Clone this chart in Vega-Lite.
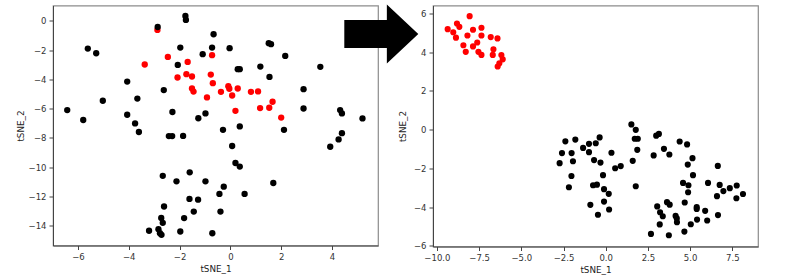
{
"$schema": "https://vega.github.io/schema/vega-lite/v6.json",
"background": "white",
"padding": {"left": 15, "top": 3.5, "right": 5, "bottom": 5},
"bounds": "flush",
"spacing": 55,
"config": {
  "view": {"stroke": "#8c8c8c", "strokeWidth": 1.2},
  "axis": {"grid": false, "labelFont": "DejaVu Sans", "labelFontSize": 8.5, "labelColor": "#333", "titleFont": "DejaVu Sans", "titleFontSize": 8.8, "titleFontWeight": "normal", "titleColor": "#222", "tickColor": "#444", "tickSize": 4, "domainColor": "#444", "labelPadding": 3, "titlePadding": 3, "labelFlush": false, "labelOverlap": false, "labelBound": false}
},
"datasets": {
"left": [
{"x":-2.87,"y":-0.61,"c":"r"},{"x":-3.37,"y":-2.98,"c":"r"},{"x":-2.46,"y":-2.46,"c":"r"},{"x":-1.68,"y":-2.80,"c":"r"},{"x":-0.72,"y":-2.34,"c":"r"},{"x":-2.08,"y":-3.87,"c":"r"},{"x":-1.73,"y":-3.64,"c":"r"},{"x":-1.51,"y":-3.80,"c":"r"},{"x":-0.77,"y":-3.67,"c":"r"},{"x":-0.69,"y":-4.26,"c":"r"},{"x":-1.51,"y":-4.62,"c":"r"},{"x":-1.45,"y":-4.83,"c":"r"},{"x":-0.92,"y":-5.23,"c":"r"},{"x":-0.37,"y":-4.85,"c":"r"},{"x":-0.08,"y":-4.47,"c":"r"},{"x":-0.04,"y":-4.64,"c":"r"},{"x":0.07,"y":-5.10,"c":"r"},{"x":0.29,"y":-4.62,"c":"r"},{"x":0.81,"y":-4.85,"c":"r"},{"x":1.09,"y":-4.82,"c":"r"},{"x":1.66,"y":-5.53,"c":"r"},{"x":1.53,"y":-5.94,"c":"r"},{"x":1.17,"y":-5.96,"c":"r"},{"x":0.20,"y":-6.15,"c":"r"},{"x":2.00,"y":-6.61,"c":"r"},
{"x":-2.86,"y":-0.41,"c":"k"},{"x":-1.77,"y":0.34,"c":"k"},{"x":-1.75,"y":0.07,"c":"k"},{"x":-5.61,"y":-1.89,"c":"k"},{"x":-5.28,"y":-2.21,"c":"k"},{"x":-1.97,"y":-1.82,"c":"k"},{"x":-2.07,"y":-3.01,"c":"k"},{"x":-4.06,"y":-4.15,"c":"k"},{"x":-2.62,"y":-4.73,"c":"k"},{"x":-5.02,"y":-5.46,"c":"k"},{"x":-3.66,"y":-5.31,"c":"k"},{"x":-6.42,"y":-6.10,"c":"k"},{"x":-5.79,"y":-6.78,"c":"k"},{"x":-4.06,"y":-6.42,"c":"k"},{"x":-2.28,"y":-6.23,"c":"k"},{"x":-3.75,"y":-7.01,"c":"k"},{"x":-3.60,"y":-7.60,"c":"k"},{"x":-1.26,"y":-6.66,"c":"k"},{"x":-0.66,"y":-0.91,"c":"k"},{"x":-0.72,"y":-1.82,"c":"k"},{"x":-0.03,"y":-1.86,"c":"k"},{"x":-1.09,"y":-2.27,"c":"k"},{"x":1.51,"y":-1.52,"c":"k"},{"x":1.60,"y":-1.59,"c":"k"},{"x":2.16,"y":-2.39,"c":"k"},{"x":3.54,"y":-3.14,"c":"k"},{"x":0.29,"y":-3.30,"c":"k"},{"x":0.37,"y":-3.30,"c":"k"},{"x":1.18,"y":-3.12,"c":"k"},{"x":1.54,"y":-3.83,"c":"k"},{"x":2.88,"y":-4.67,"c":"k"},{"x":-0.98,"y":-6.33,"c":"k"},{"x":2.88,"y":-5.99,"c":"k"},{"x":4.32,"y":-6.10,"c":"k"},{"x":4.39,"y":-6.33,"c":"k"},{"x":5.20,"y":-6.67,"c":"k"},{"x":-0.29,"y":-7.45,"c":"k"},{"x":0.37,"y":-7.22,"c":"k"},{"x":2.11,"y":-7.45,"c":"k"},{"x":-2.42,"y":-7.88,"c":"k"},{"x":-2.29,"y":-7.88,"c":"k"},{"x":-1.86,"y":-7.87,"c":"k"},{"x":4.39,"y":-7.68,"c":"k"},{"x":4.26,"y":-8.11,"c":"k"},{"x":3.93,"y":-8.61,"c":"k"},{"x":0.07,"y":-8.56,"c":"k"},{"x":0.20,"y":-9.72,"c":"k"},{"x":0.37,"y":-9.97,"c":"k"},{"x":-2.66,"y":-10.60,"c":"k"},{"x":-2.12,"y":-10.98,"c":"k"},{"x":-1.60,"y":-10.36,"c":"k"},{"x":-0.98,"y":-10.98,"c":"k"},{"x":-0.26,"y":-11.34,"c":"k"},{"x":-0.43,"y":-11.84,"c":"k"},{"x":0.56,"y":-11.84,"c":"k"},{"x":1.69,"y":-11.09,"c":"k"},{"x":-1.61,"y":-12.18,"c":"k"},{"x":-1.27,"y":-12.23,"c":"k"},{"x":-2.61,"y":-12.70,"c":"k"},{"x":-1.44,"y":-13.05,"c":"k"},{"x":-0.39,"y":-13.05,"c":"k"},{"x":-1.82,"y":-13.49,"c":"k"},{"x":-2.72,"y":-13.48,"c":"k"},{"x":-2.66,"y":-13.82,"c":"k"},{"x":-3.20,"y":-14.36,"c":"k"},{"x":-2.83,"y":-14.26,"c":"k"},{"x":-2.77,"y":-14.53,"c":"k"},{"x":-2.71,"y":-14.64,"c":"k"},{"x":-1.97,"y":-14.41,"c":"k"},{"x":-0.71,"y":-14.53,"c":"k"}
],
"arrow": [{"x":5.94,"y":-0.89}],
"right": [
{"x":-8.06,"y":5.86,"c":"r"},{"x":-9.36,"y":5.19,"c":"r"},{"x":-8.81,"y":5.48,"c":"r"},{"x":-8.67,"y":5.31,"c":"r"},{"x":-9.03,"y":5.03,"c":"r"},{"x":-8.87,"y":4.75,"c":"r"},{"x":-8.19,"y":4.86,"c":"r"},{"x":-7.86,"y":5.16,"c":"r"},{"x":-7.36,"y":5.26,"c":"r"},{"x":-7.36,"y":4.86,"c":"r"},{"x":-7.61,"y":4.50,"c":"r"},{"x":-8.43,"y":4.36,"c":"r"},{"x":-7.86,"y":4.30,"c":"r"},{"x":-8.29,"y":4.02,"c":"r"},{"x":-7.54,"y":4.02,"c":"r"},{"x":-7.36,"y":3.86,"c":"r"},{"x":-6.81,"y":4.78,"c":"r"},{"x":-6.41,"y":4.71,"c":"r"},{"x":-6.65,"y":4.15,"c":"r"},{"x":-6.69,"y":3.86,"c":"r"},{"x":-6.18,"y":3.85,"c":"r"},{"x":-6.10,"y":3.63,"c":"r"},{"x":-6.30,"y":3.43,"c":"r"},{"x":-6.40,"y":3.26,"c":"r"},
{"x":-2.39,"y":-0.60,"c":"k"},{"x":-1.80,"y":-0.51,"c":"k"},{"x":-2.59,"y":-1.21,"c":"k"},{"x":-2.02,"y":-1.21,"c":"k"},{"x":-2.73,"y":-1.73,"c":"k"},{"x":-1.94,"y":-1.63,"c":"k"},{"x":-1.34,"y":-0.94,"c":"k"},{"x":-0.99,"y":-0.73,"c":"k"},{"x":-0.59,"y":-0.70,"c":"k"},{"x":-0.36,"y":-0.40,"c":"k"},{"x":-0.99,"y":-1.16,"c":"k"},{"x":-0.69,"y":-1.57,"c":"k"},{"x":-0.31,"y":-1.70,"c":"k"},{"x":0.34,"y":-1.19,"c":"k"},{"x":-2.03,"y":-2.39,"c":"k"},{"x":-2.18,"y":-2.97,"c":"k"},{"x":-0.75,"y":-2.87,"c":"k"},{"x":-0.52,"y":-2.84,"c":"k"},{"x":-0.16,"y":-2.35,"c":"k"},{"x":-0.10,"y":-3.07,"c":"k"},{"x":0.18,"y":-3.31,"c":"k"},{"x":0.56,"y":-1.99,"c":"k"},{"x":0.89,"y":-1.88,"c":"k"},{"x":-0.91,"y":-3.88,"c":"k"},{"x":-0.10,"y":-3.71,"c":"k"},{"x":0.20,"y":-4.12,"c":"k"},{"x":-0.46,"y":-4.39,"c":"k"},{"x":1.52,"y":0.27,"c":"k"},{"x":1.78,"y":-0.01,"c":"k"},{"x":1.72,"y":-0.47,"c":"k"},{"x":1.90,"y":-0.47,"c":"k"},{"x":1.87,"y":-1.04,"c":"k"},{"x":1.60,"y":-1.61,"c":"k"},{"x":1.78,"y":-2.92,"c":"k"},{"x":2.99,"y":-0.31,"c":"k"},{"x":3.15,"y":-0.22,"c":"k"},{"x":2.84,"y":-1.33,"c":"k"},{"x":3.45,"y":-0.99,"c":"k"},{"x":3.77,"y":-1.28,"c":"k"},{"x":4.38,"y":-0.61,"c":"k"},{"x":4.82,"y":-0.76,"c":"k"},{"x":5.14,"y":-1.47,"c":"k"},{"x":4.86,"y":-1.80,"c":"k"},{"x":6.64,"y":-1.87,"c":"k"},{"x":5.17,"y":-2.35,"c":"k"},{"x":4.58,"y":-2.75,"c":"k"},{"x":4.90,"y":-2.87,"c":"k"},{"x":4.88,"y":-3.23,"c":"k"},{"x":6.06,"y":-2.75,"c":"k"},{"x":6.75,"y":-2.85,"c":"k"},{"x":6.97,"y":-3.17,"c":"k"},{"x":7.35,"y":-3.02,"c":"k"},{"x":7.76,"y":-2.88,"c":"k"},{"x":8.13,"y":-3.32,"c":"k"},{"x":6.59,"y":-3.43,"c":"k"},{"x":7.74,"y":-3.54,"c":"k"},{"x":3.63,"y":-3.74,"c":"k"},{"x":3.79,"y":-3.87,"c":"k"},{"x":4.68,"y":-3.76,"c":"k"},{"x":3.05,"y":-3.96,"c":"k"},{"x":5.39,"y":-4.00,"c":"k"},{"x":5.39,"y":-4.09,"c":"k"},{"x":5.89,"y":-4.19,"c":"k"},{"x":3.22,"y":-4.26,"c":"k"},{"x":3.38,"y":-4.47,"c":"k"},{"x":4.14,"y":-4.45,"c":"k"},{"x":4.21,"y":-4.58,"c":"k"},{"x":4.22,"y":-4.78,"c":"k"},{"x":5.41,"y":-4.64,"c":"k"},{"x":6.01,"y":-4.69,"c":"k"},{"x":6.65,"y":-4.41,"c":"k"},{"x":3.20,"y":-4.89,"c":"k"},{"x":5.04,"y":-4.88,"c":"k"},{"x":4.66,"y":-5.26,"c":"k"},{"x":2.68,"y":-5.38,"c":"k"},{"x":3.74,"y":-5.45,"c":"k"}
]
},
"hconcat": [
{
  "width": 325, "height": 240,
  "encoding": {
    "x": {"field": "x", "type": "quantitative", "scale": {"domain": [-6.98, 5.81], "nice": false, "zero": false}, "axis": {"title": "tSNE_1", "values": [-6, -4, -2, 0, 2, 4]}},
    "y": {"field": "y", "type": "quantitative", "scale": {"domain": [-15.37, 1.06], "nice": false, "zero": false}, "axis": {"title": "tSNE_2", "values": [0, -2, -4, -6, -8, -10, -12, -14], "titlePadding": 3}}
  },
  "layer": [
    {"data": {"name": "left"}, "mark": {"type": "point", "filled": true, "opacity": 1, "size": 40},
     "encoding": {"color": {"field": "c", "type": "nominal", "scale": {"domain": ["r", "k"], "range": ["#ff0000", "#000000"]}, "legend": null}}},
    {"data": {"name": "arrow"}, "mark": {"type": "point", "filled": true, "opacity": 1, "size": 5476, "color": "#000000", "shape": "M-1,-0.38L0.15,-0.38L0.15,-0.8L1,0L0.15,0.8L0.15,0.38L-1,0.38Z"}}
  ]
},
{
  "width": 325, "height": 241,
  "data": {"name": "right"},
  "mark": {"type": "point", "filled": true, "opacity": 1, "size": 38},
  "encoding": {
    "x": {"field": "x", "type": "quantitative", "scale": {"domain": [-10.23, 9.02], "nice": false, "zero": false}, "axis": {"title": "tSNE_1", "values": [-10, -7.5, -5, -2.5, 0, 2.5, 5, 7.5], "format": ".1f"}},
    "y": {"field": "y", "type": "quantitative", "scale": {"domain": [-6.03, 6.41], "nice": false, "zero": false}, "axis": {"title": "tSNE_2", "values": [-6, -4, -2, 0, 2, 4, 6], "titlePadding": 6}},
    "color": {"field": "c", "type": "nominal", "scale": {"domain": ["r", "k"], "range": ["#ff0000", "#000000"]}, "legend": null}
  }
}
]
}
